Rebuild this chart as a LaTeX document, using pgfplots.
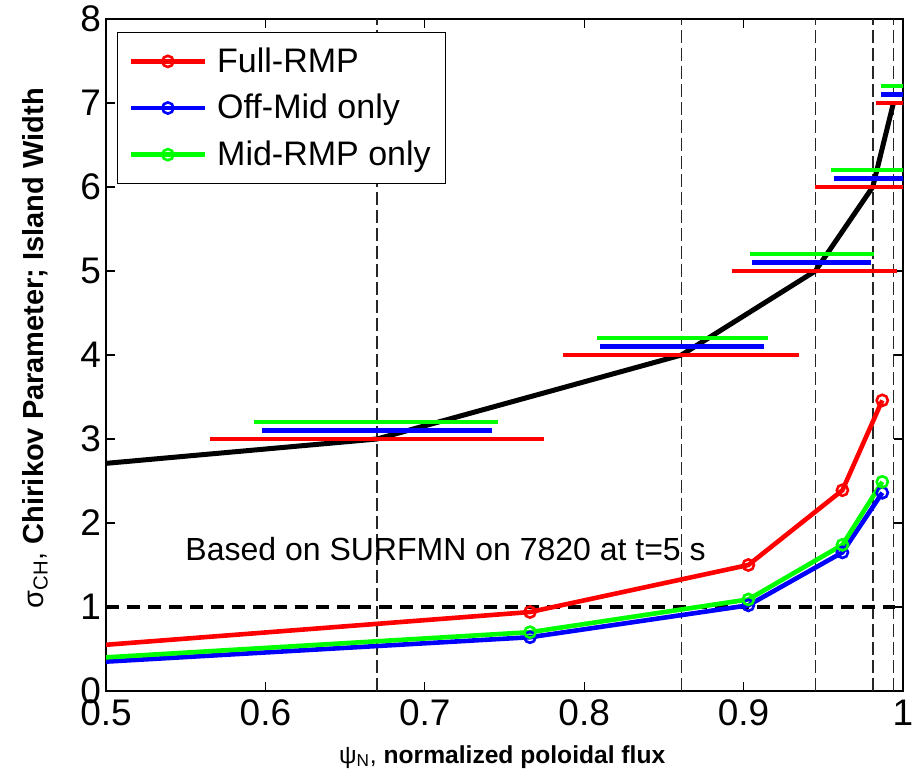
\documentclass[border=0pt]{standalone}
\usepackage{pgfplots}
\pgfplotsset{compat=1.18}
\usepackage{fontspec}
\setmainfont{Liberation Sans}
\begin{document}
\begin{tikzpicture}
\begin{axis}[
  at={(0pt,0pt)}, anchor=south west,
  scale only axis, width=398.5pt, height=336pt,
  xmin=0.5, xmax=1, ymin=0, ymax=8,
  xtick={0.5,0.6,0.7,0.8,0.9,1}, xticklabels={0.5,0.6,0.7,0.8,0.9,1},
  ytick={0,1,2,3,4,5,6,7,8},
  tick align=inside, major tick length=4.5pt,
  tick style={black, line width=0.6pt},
  axis line style={black, line width=0.8pt},
  /pgf/number format/assume math mode=true,
  ticklabel style={font=\fontsize{18.5}{20}\selectfont},
  xticklabel style={yshift=-1pt},
  yticklabel style={xshift=1pt},
  xlabel={ψ\textsubscript{N}, \textbf{normalized poloidal flux}},
  xlabel style={at={(axis description cs:0.497,0)}, yshift=-33pt, anchor=center, font=\fontsize{12.3}{14}\selectfont},
  ylabel={σ\textsubscript{CH}, \textbf{Chirikov Parameter; Island Width}},
  ylabel style={at={(axis description cs:-0.0891,0.51)}, anchor=center, font=\fontsize{14.5}{17}\selectfont},
  legend style={at={(axis description cs:0.0138,0.9807)}, anchor=north west,
    draw=black, line width=0.6pt, fill=white, font=\fontsize{17}{20}\selectfont,
    inner xsep=5.5pt, inner ysep=5.5pt, row sep=5.5pt,
    /tikz/every odd column/.append style={column sep=3pt}},
  legend cell align=left,
  legend image code/.code={\draw[#1, mark repeat=2, mark phase=2] plot coordinates {(0pt,0pt) (18.5pt,0pt) (37pt,0pt)};},
]
% vertical dashed lines at rational surfaces
\addplot[forget plot, black!85, line width=0.8pt, dash pattern=on 6.5pt off 2.5pt] coordinates {(0.670,0) (0.670,8)};
\addplot[forget plot, black!85, line width=0.8pt, dash pattern=on 6.5pt off 2.5pt] coordinates {(0.861,0) (0.861,8)};
\addplot[forget plot, black!85, line width=0.8pt, dash pattern=on 6.5pt off 2.5pt] coordinates {(0.945,0) (0.945,8)};
\addplot[forget plot, black!85, line width=0.8pt, dash pattern=on 6.5pt off 2.5pt] coordinates {(0.981,0) (0.981,8)};
\addplot[forget plot, black!85, line width=0.8pt, dash pattern=on 6.5pt off 2.5pt] coordinates {(0.994,0) (0.994,8)};
% horizontal dashed at 1
\addplot[forget plot, black, line width=2.2pt, dash pattern=on 6.5pt off 4pt] coordinates {(0.5,1) (0.995,1)};
% q profile
\addplot[forget plot, black, line width=2.5pt] coordinates {(0.5,2.71) (0.670,3) (0.861,4) (0.945,5) (0.981,6) (0.994,7)};
% island widths
\addplot[forget plot, red, line width=2.3pt] coordinates {(0.565,3) (0.775,3)};
\addplot[forget plot, blue, line width=2.3pt] coordinates {(0.598,3.1) (0.742,3.1)};
\addplot[forget plot, green, line width=2.3pt] coordinates {(0.593,3.2) (0.746,3.2)};
\addplot[forget plot, red, line width=2.3pt] coordinates {(0.787,4) (0.935,4)};
\addplot[forget plot, blue, line width=2.3pt] coordinates {(0.810,4.1) (0.913,4.1)};
\addplot[forget plot, green, line width=2.3pt] coordinates {(0.808,4.2) (0.915,4.2)};
\addplot[forget plot, red, line width=2.3pt] coordinates {(0.893,5) (0.996,5)};
\addplot[forget plot, blue, line width=2.3pt] coordinates {(0.905,5.1) (0.980,5.1)};
\addplot[forget plot, green, line width=2.3pt] coordinates {(0.904,5.2) (0.982,5.2)};
\addplot[forget plot, red, line width=2.3pt] coordinates {(0.945,6) (1.017,6)};
\addplot[forget plot, blue, line width=2.3pt] coordinates {(0.957,6.1) (1.005,6.1)};
\addplot[forget plot, green, line width=2.3pt] coordinates {(0.955,6.2) (1.007,6.2)};
\addplot[forget plot, red, line width=2.3pt] coordinates {(0.983,7) (1.005,7)};
\addplot[forget plot, blue, line width=2.3pt] coordinates {(0.986,7.1) (1.002,7.1)};
\addplot[forget plot, green, line width=2.3pt] coordinates {(0.986,7.2) (1.002,7.2)};
% Chirikov parameters (first point lies left of the axis and is clipped)
\addplot[red, line width=2.3pt, mark=o, mark size=2.8pt, mark options={solid, line width=1.3pt}]
  coordinates {(0.45,0.477) (0.766,0.94) (0.903,1.50) (0.962,2.39) (0.987,3.46)};
\addlegendentry{Full-RMP}
\addplot[blue, line width=2.3pt, mark=o, mark size=2.8pt, mark options={solid, line width=1.3pt}]
  coordinates {(0.45,0.295) (0.766,0.64) (0.903,1.02) (0.962,1.65) (0.987,2.36)};
\addlegendentry{Off-Mid only}
\addplot[green, line width=2.3pt, mark=o, mark size=2.8pt, mark options={solid, line width=1.3pt}]
  coordinates {(0.45,0.344) (0.766,0.70) (0.903,1.09) (0.962,1.74) (0.987,2.49)};
\addlegendentry{Mid-RMP only}
\node[anchor=west, inner sep=0pt, font=\fontsize{16}{18}\selectfont] at (axis cs:0.5496,1.69) {Based on SURFMN on 7820 at t=5 s};
\end{axis}
\pgfresetboundingbox
\path[use as bounding box] (-53pt,-45.5pt) rectangle (408.5pt,345.5pt);
\end{tikzpicture}
\end{document}
